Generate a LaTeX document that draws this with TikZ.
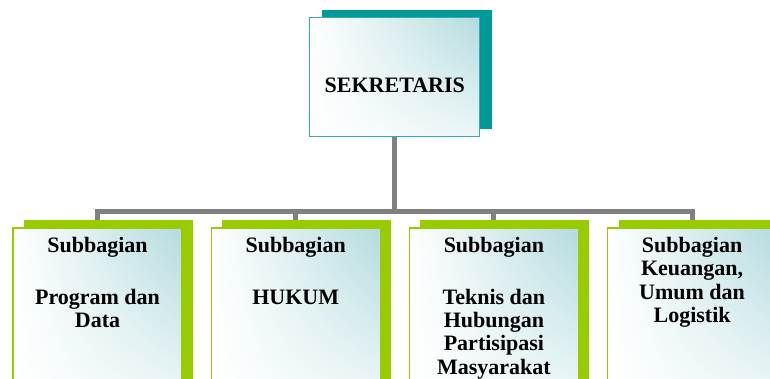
\documentclass[tikz,border=0pt]{standalone}
\usepackage{fontspec}
\setmainfont{Liberation Serif}
\usetikzlibrary{positioning}
\usetikzlibrary{calc}
\usetikzlibrary{shadings}
\usetikzlibrary{shadows}
\usetikzlibrary{backgrounds}
\definecolor{sekteal}{HTML}{009999}
\definecolor{subgreen}{HTML}{99CC00}
\definecolor{linegray}{HTML}{808080}
\definecolor{tint}{HTML}{B3DBDE}
\newcommand{\Sub}{Subbagian}
\newcommand{\SubText}[1]{\parbox[t][147bp][t]{165bp}{\centering #1}}
\tikzstyle{orgfont} = [font=\fontsize{22bp}{23.4bp}\selectfont\bfseries]
\tikzstyle{topbox} = [rectangle, draw=sekteal!80, line width=1.2bp, shade, upper left=white, lower left=white, upper right=tint, lower right=tint!25, minimum width=170bp, minimum height=119bp, inner sep=0pt, orgfont, general shadow={shadow xshift=12bp, shadow yshift=7.5bp, fill=sekteal}]
\tikzstyle{subbox} = [rectangle, draw=subgreen, line width=1.2bp, shade, upper left=white, lower left=white, upper right=tint, lower right=tint!25, minimum width=169bp, minimum height=165bp, inner sep=0pt, orgfont, general shadow={shadow xshift=11bp, shadow yshift=8bp, fill=subgreen}]
\tikzstyle{conn} = [draw=linegray, line width=5bp]

\begin{document}
\begin{tikzpicture}[x=1bp, y=1bp]
\useasboundingbox (0,0) rectangle (770,378);
\clip (0,0) rectangle (770,378);

% Define nodes
\node[subbox]                  (pd) at (97.5,67.5) {\SubText{\Sub\\[28.5bp] Program dan\\ Data}};
\node[subbox, right = 28bp of pd] (hk) {\SubText{\Sub\\[28.5bp] HUKUM}};
\node[subbox, right = 28bp of hk] (tk) {\SubText{\Sub\\[28.5bp] Teknis dan\\ Hubungan\\ Partisipasi\\ Masyarakat}};
\node[subbox, right = 28bp of tk] (ku) {\SubText{\Sub\\ Keuangan,\\ Umum dan\\ Logistik}};

\coordinate (mid) at ($(hk.north)!0.5!(tk.north)$);
\node[topbox, above = 90bp of mid, text height=31bp, text depth=0pt] (sek) {SEKRETARIS};
\coordinate (bar) at ($(mid)+(0,15.5)$);

% Edges
\begin{pgfonlayer}{background}
\draw[conn] (sek.south) -- (bar);
\foreach \n in {pd,hk,tk,ku}
  \draw[conn] (bar) -| (\n.north);
\end{pgfonlayer}
\end{tikzpicture}
\end{document}
